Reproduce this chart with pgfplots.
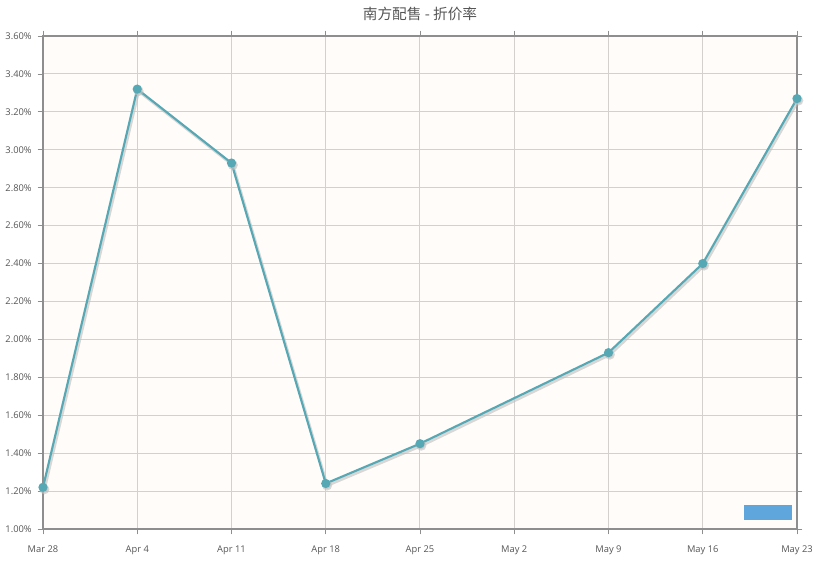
\documentclass[border=0pt]{standalone}
\usepackage{pgfplots}
\pgfplotsset{compat=1.18}
\usepackage{fontspec}
\setmainfont{Open Sans}
\newfontfamily\cjk{Noto Sans CJK SC}
\definecolor{bgc}{HTML}{FFFCFA}
\definecolor{gridc}{HTML}{D3D0CE}
\definecolor{framec}{HTML}{8E8E8E}
\definecolor{linec}{HTML}{55A8B4}
\definecolor{txtc}{HTML}{555555}
\definecolor{wm}{HTML}{5FA6DC}
\begin{document}
\begin{tikzpicture}
\useasboundingbox (-32.25pt,-28.5pt) rectangle (591.75pt,396.75pt);
\begin{axis}[
  scale only axis, width=565.5pt, height=369.75pt,
  xmin=0, xmax=56, ymin=1.0, ymax=3.6,
  xtick={0,7,14,21,28,35,42,49,56},
  xticklabels={Mar 28,Apr 4,Apr 11,Apr 18,Apr 25,May 2,May 9,May 16,May 23},
  ytick={1.0,1.2,1.4,1.6,1.8,2.0,2.2,2.4,2.6,2.8,3.0,3.2,3.4,3.6},
  yticklabels={1.00\%,1.20\%,1.40\%,1.60\%,1.80\%,2.00\%,2.20\%,2.40\%,2.60\%,2.80\%,3.00\%,3.20\%,3.40\%,3.60\%},
  grid=major,
  major grid style={gridc, line width=0.75pt},
  axis background/.style={fill=bgc},
  axis line style={framec, line width=1.4pt},
  tick align=outside, major tick length=4pt,
  tick style={framec, line width=0.6pt},
  ticklabel style={font=\fontsize{7}{8}\selectfont, text=txtc},
  yticklabel style={xshift=-1pt},
  xticklabel style={yshift=-5pt},
  title={\cjk\fontsize{11}{13}\selectfont 南方配售 - 折价率},
  title style={text=txtc, yshift=2pt},
]
\fill[wm] (axis cs:52.05,1.047) rectangle (axis cs:55.6,1.127);
\addplot[black!25, line width=2.2pt, mark=*, mark size=2.6pt, opacity=0.6, shift={(1pt,-1.5pt)}]
  table[x=d,y=v]{
d v
0 1.22
7 3.32
14 2.93
21 1.24
28 1.45
42 1.93
49 2.40
56 3.27
};
\addplot[linec, line width=1.6pt, mark=*, mark size=2.6pt, mark options={fill=linec, draw=linec}]
  table[x=d,y=v]{
d v
0 1.22
7 3.32
14 2.93
21 1.24
28 1.45
42 1.93
49 2.40
56 3.27
};
\end{axis}
\end{tikzpicture}
\end{document}
